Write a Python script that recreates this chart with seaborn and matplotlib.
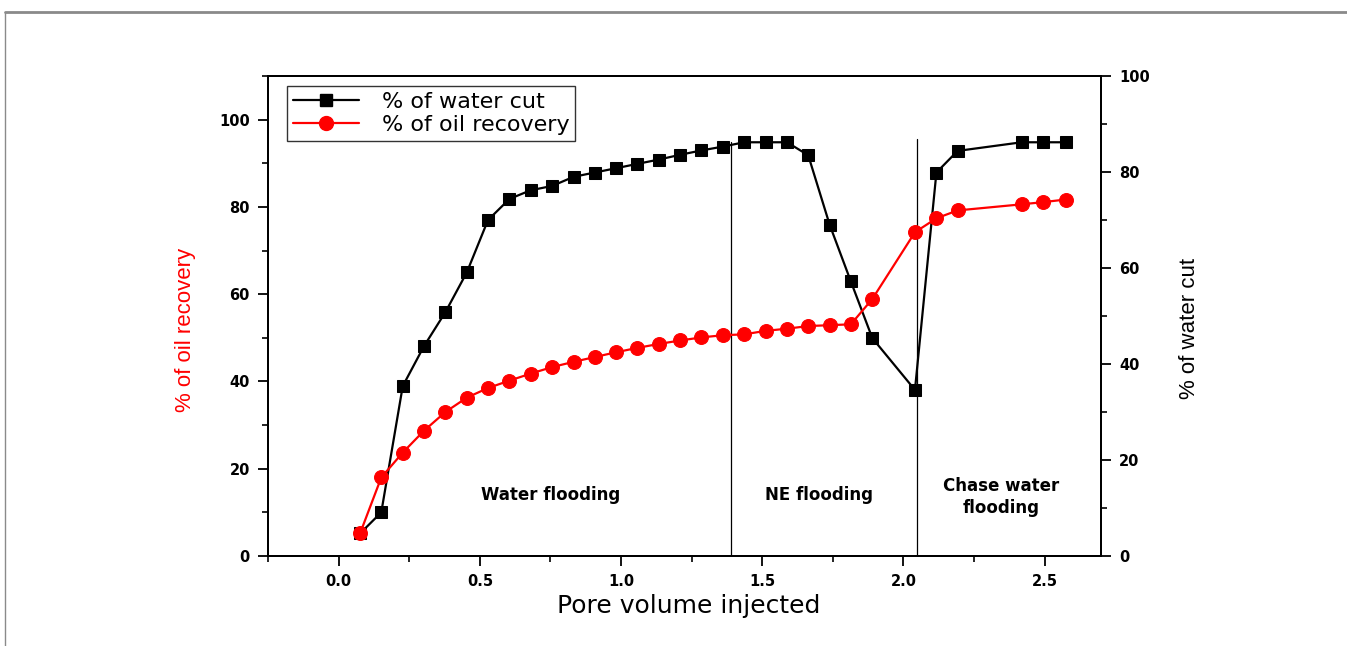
import matplotlib
matplotlib.use("Agg")
import matplotlib.pyplot as plt
import numpy as np
import pandas as pd
import seaborn as sns
from matplotlib.lines import Line2D
from matplotlib.ticker import MultipleLocator

""" Data read off the chart """
pore_volume = [0.076, 0.151, 0.227, 0.302, 0.378, 0.454, 0.529, 0.605, 0.680, 0.756,
               0.832, 0.907, 0.983, 1.058, 1.134, 1.210, 1.285, 1.361, 1.436, 1.512,
               1.588, 1.663, 1.739, 1.814, 1.890, 2.041, 2.117, 2.192, 2.419, 2.495,
               2.575]
water_cut = [4.7, 9.1, 35.4, 43.7, 50.8, 59.1, 70.0, 74.4, 76.2, 77.1,
             79.0, 79.9, 80.8, 81.7, 82.6, 83.6, 84.5, 85.3, 86.2, 86.2,
             86.2, 83.5, 69.0, 57.2, 45.4, 34.6, 79.9, 84.4, 86.2, 86.2,
             86.2]
oil_recovery = [5.2, 18.0, 23.7, 28.7, 33.0, 36.3, 38.5, 40.2, 41.8, 43.3,
                44.5, 45.6, 46.7, 47.7, 48.6, 49.4, 50.1, 50.6, 50.8, 51.6,
                52.1, 52.7, 52.9, 53.1, 58.9, 74.2, 77.4, 79.2, 80.6, 81.1,
                81.7]
stage_bounds = [1.39, 2.05]
stage_labels = ["Water flooding", "NE flooding", "Chase water\nflooding"]
stage_label_x = [0.75, 1.70, 2.345]
stage_label_y = [14, 14, 13.5]

df = pd.DataFrame({"pv": pore_volume, "wc": water_cut, "oil": oil_recovery})

""" Style """
sns.set_style("ticks")
plt.rcParams["font.family"] = ["DejaVu Sans"]
plt.rcParams["text.color"] = "black"
plt.rcParams["axes.labelcolor"] = "black"
tick_font = {"family": "DejaVu Sans", "weight": "bold", "size": 10.5}

fig = plt.figure(figsize=(13.47, 6.46), dpi=100)
ax = fig.add_axes([0.199, 0.1393, 0.6184, 0.743])
ax_wc = ax.twinx()

# water cut on the right axis
sns.lineplot(data=df, x="pv", y="wc", color="black", marker="s", markersize=9,
             markeredgecolor="black", linewidth=1.6, ax=ax_wc)
# oil recovery on the left axis
sns.lineplot(data=df, x="pv", y="oil", color="red", marker="o", markersize=10,
             markeredgecolor="red", linewidth=1.6, ax=ax)

# keep red on top of black
ax.set_zorder(ax_wc.get_zorder() + 1)
ax.patch.set_visible(False)

ax.set(xlim=(-0.25, 2.7), ylim=(0, 110))
ax_wc.set(ylim=(0, 100))

ax.xaxis.set_minor_locator(MultipleLocator(0.25))
ax.yaxis.set_minor_locator(MultipleLocator(10))
ax_wc.yaxis.set_minor_locator(MultipleLocator(10))

for a in (ax, ax_wc):
    a.tick_params(which="major", direction="out", length=7, width=1.3, colors="black")
    a.tick_params(which="minor", direction="out", length=4, width=1.2, colors="black")
    for sp in a.spines.values():
        sp.set_linewidth(1.4)
        sp.set_color("black")
ax.tick_params(axis="x", which="both", top=False)
ax_wc.tick_params(axis="x", which="both", top=False)
ax.set_xticks([0.0, 0.5, 1.0, 1.5, 2.0, 2.5])
ax.set_xticklabels(["0.0", "0.5", "1.0", "1.5", "2.0", "2.5"], fontdict=tick_font)
ax.set_yticks([0, 20, 40, 60, 80, 100])
ax.set_yticklabels(["0", "20", "40", "60", "80", "100"], fontdict=tick_font)
ax_wc.set_yticks([0, 20, 40, 60, 80, 100])
ax_wc.set_yticklabels(["0", "20", "40", "60", "80", "100"], fontdict=tick_font)
ax.tick_params(axis="both", which="major", pad=6)
ax_wc.tick_params(axis="y", which="major", pad=6)

narrow = ["Liberation Sans Narrow", "Liberation Sans", "DejaVu Sans"]
ax.set_xlabel("Pore volume injected", family="DejaVu Sans", fontsize=18, color="black")
ax.xaxis.set_label_coords(0.505, -0.08)
ax.set_ylabel("% of oil recovery", family=narrow, fontsize=16, color="red")
ax.yaxis.set_label_coords(-0.086, 0.47)
ax_wc.set_ylabel("% of water cut", family=narrow, fontsize=16, color="black", rotation=90)
ax_wc.yaxis.set_label_coords(1.093, 0.475)

# stage boundaries
ax_wc.axvline(stage_bounds[0], ymax=0.8625, color="black", linewidth=0.9)
ax_wc.axvline(stage_bounds[1], ymax=0.869, color="black", linewidth=0.9)

for lx, ly, txt in zip(stage_label_x, stage_label_y, stage_labels):
    ax.text(lx, ly, txt, ha="center", va="center", fontsize=12, color="black",
            fontweight="bold", family="DejaVu Sans", linespacing=1.3)

handles = [
    Line2D([], [], color="black", marker="s", markersize=9, linewidth=1.6),
    Line2D([], [], color="red", marker="o", markersize=10, linewidth=1.6),
]
leg = ax.legend(handles, ["% of water cut", "% of oil recovery"], loc="upper left",
                bbox_to_anchor=(0.023, 0.979), borderaxespad=0, frameon=True,
                fancybox=False, borderpad=0.25, handlelength=3.0, handletextpad=1.0,
                labelspacing=0.15, labelcolor="black",
                prop={"family": "DejaVu Sans", "size": 16})
leg.get_frame().set_edgecolor("black")
leg.get_frame().set_linewidth(1.0)

# page frame
fig.add_artist(Line2D([5 / 1347, 1.0], [1 - 12 / 646, 1 - 12 / 646],
                      transform=fig.transFigure, color="#8a8a8a", linewidth=2))
fig.add_artist(Line2D([5 / 1347, 5 / 1347], [0.0, 1 - 12 / 646],
                      transform=fig.transFigure, color="#8a8a8a", linewidth=1))

fig.savefig("out.png", dpi=100)
